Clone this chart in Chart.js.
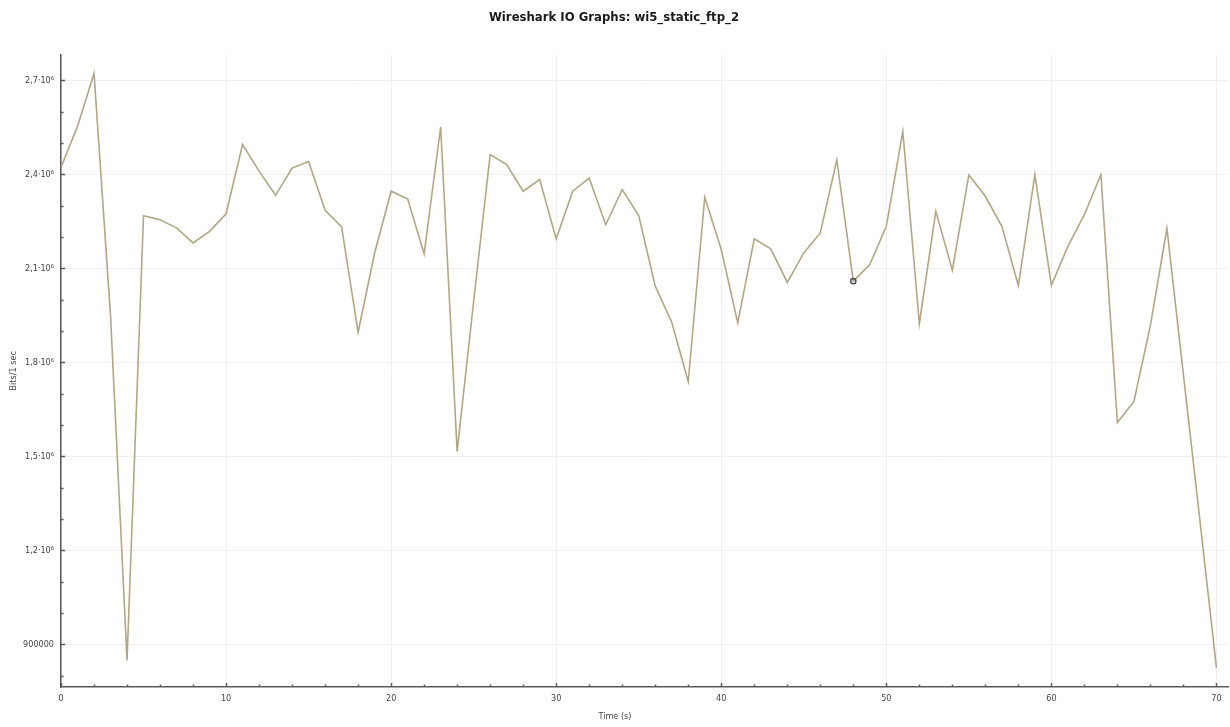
<!DOCTYPE html>
<html>
<head>
<meta charset="utf-8">
<script src="https://cdn.jsdelivr.net/npm/chart.js@4.4.1/dist/chart.umd.min.js"></script>
<style>
  html, body { margin: 0; padding: 0; background: #ffffff; }
  #wrap { width: 1230px; height: 727px; }
</style>
</head>
<body>
<div id="wrap"><canvas id="c" width="1230" height="727"></canvas></div>
<script>
// ---- data ----
const timeSeconds = [0,1,2,3,4,5,6,7,8,9,10,11,12,13,14,15,16,17,18,19,20,21,22,23,24,25,26,27,28,29,30,31,32,33,34,35,36,37,38,39,40,41,42,43,44,45,46,47,48,49,50,51,52,53,54,55,56,57,58,59,60,61,62,63,64,65,66,67,68,69,70];
const bitsPerSec = [
  2422000, 2553000, 2722000, 1950000,  849000, 2268000, 2255000, 2229000, 2181000, 2218000,
  2274000, 2495000, 2410000, 2333000, 2420000, 2441000, 2285000, 2232000, 1896000, 2149000,
  2346000, 2322000, 2146000, 2551000, 1516000, 1995000, 2463000, 2431000, 2346000, 2383000,
  2194000, 2346000, 2388000, 2239000, 2351000, 2268000, 2043000, 1928000, 1739000, 2327000,
  2160000, 1926000, 2194000, 2162000, 2055000, 2149000, 2213000, 2446000, 2059000, 2112000,
  2234000, 2537000, 1924000, 2282000, 2094000, 2398000, 2330000, 2234000, 2045000, 2399000,
  2046000, 2170000, 2271000, 2399000, 1608000, 1675000, 1918000, 2227000, 1760000, 1295000,
  825000
];
const markedTime = 48; // Wireshark cursor marker

const xMajorTicks = [0,10,20,30,40,50,60,70];
const xMinorTicks = [2,4,6,8,12,14,16,18,22,24,26,28,32,34,36,38,42,44,46,48,52,54,56,58,62,64,66,68];
const yMajorTicks = [900000,1200000,1500000,1800000,2100000,2400000,2700000];
const yMajorLabels = ['900000','1,2·10⁶','1,5·10⁶','1,8·10⁶','2,1·10⁶','2,4·10⁶','2,7·10⁶'];
const yMinorTicks = [800000,1000000,1100000,1300000,1400000,1600000,1700000,1900000,2000000,2200000,2300000,2500000,2600000];

const xRange = [0, 70.7];
const yRange = [764000, 2782000];

const titleText = 'Wireshark IO Graphs: wi5_static_ftp_2';
const xTitle = 'Time (s)';
const yTitle = 'Bits/1 sec';

// ---- chart ----
const FONT = '"Liberation Sans Narrow", "DejaVu Sans Condensed", "Liberation Sans", sans-serif';
const AXIS_COLOR = '#5a5a5a';
const GRID_COLOR = '#efefef';
const LINE_COLOR = '#b3a687';

const points = timeSeconds.map((t, i) => ({ x: t, y: bitsPerSec[i] }));

const tickMarks = {
  id: 'tickMarks',
  afterDatasetsDraw(chart) {
    const ctx = chart.ctx;
    const xs = chart.scales.x, ys = chart.scales.y;
    const a = chart.chartArea;
    ctx.save();
    ctx.strokeStyle = AXIS_COLOR;
    ctx.lineWidth = 1.5;
    ctx.beginPath();
    yMajorTicks.forEach(v => { const p = Math.round(ys.getPixelForValue(v)) + 0.5; ctx.moveTo(a.left, p); ctx.lineTo(a.left + 4, p); });
    yMinorTicks.forEach(v => { const p = Math.round(ys.getPixelForValue(v)) + 0.5; ctx.moveTo(a.left, p); ctx.lineTo(a.left + 2.5, p); });
    xMajorTicks.forEach(v => { const p = Math.round(xs.getPixelForValue(v)) + 0.5; ctx.moveTo(p, a.bottom); ctx.lineTo(p, a.bottom - 4); });
    xMinorTicks.forEach(v => { const p = Math.round(xs.getPixelForValue(v)) + 0.5; ctx.moveTo(p, a.bottom); ctx.lineTo(p, a.bottom - 2.5); });
    ctx.stroke();
    // x axis title, centred on the page as in the reference
    ctx.fillStyle = '#444';
    ctx.font = '9px ' + FONT;
    ctx.textAlign = 'center';
    ctx.textBaseline = 'middle';
    ctx.fillText(xTitle, chart.width / 2, chart.height - 10);
    ctx.restore();
  }
};

new Chart(document.getElementById('c'), {
  type: 'line',
  data: {
    datasets: [{
      data: points,
      borderColor: LINE_COLOR,
      borderWidth: 1.6,
      tension: 0,
      fill: false,
      pointRadius: timeSeconds.map(t => t === markedTime ? 2.6 : 0),
      pointBorderColor: '#4a4a4a',
      pointBackgroundColor: 'rgba(255,255,255,0)',
      pointBorderWidth: 1.4,
      pointHoverRadius: 0
    }]
  },
  options: {
    responsive: false,
    animation: false,
    events: [],
    layout: { padding: { left: 0, right: 2, top: 0, bottom: 0 } },
    plugins: {
      legend: { display: false },
      tooltip: { enabled: false },
      title: {
        display: true,
        text: titleText,
        color: '#1a1a1a',
        font: { family: FONT, size: 13, weight: 'bold', lineHeight: 1.2 },
        padding: { top: 10, bottom: 29 }
      }
    },
    scales: {
      x: {
        type: 'linear',
        min: xRange[0],
        max: xRange[1],
        afterBuildTicks: s => { s.ticks = xMajorTicks.map(v => ({ value: v })); },
        afterFit: s => { s.height = 40; },
        ticks: {
          color: '#444',
          font: { family: FONT, size: 9 },
          padding: 6,
          autoSkip: false,
          maxRotation: 0,
          callback: v => String(v)
        },
        grid: { color: GRID_COLOR, lineWidth: 1, drawTicks: false },
        border: { display: true, color: AXIS_COLOR, width: 1.5 },
        title: { display: false }
      },
      y: {
        type: 'linear',
        min: yRange[0],
        max: yRange[1],
        afterBuildTicks: s => { s.ticks = yMajorTicks.map(v => ({ value: v })); },
        afterFit: s => { s.width = 61; },
        ticks: {
          color: '#444',
          font: { family: FONT, size: 9 },
          padding: 7,
          autoSkip: false,
          callback: v => yMajorLabels[yMajorTicks.indexOf(v)]
        },
        grid: { color: GRID_COLOR, lineWidth: 1, drawTicks: false },
        border: { display: true, color: AXIS_COLOR, width: 1.5 },
        title: {
          display: true,
          text: yTitle,
          color: '#444',
          font: { family: FONT, size: 9 },
          padding: { top: 8, bottom: 0 }
        }
      }
    }
  },
  plugins: [tickMarks]
});
</script>
</body>
</html>
